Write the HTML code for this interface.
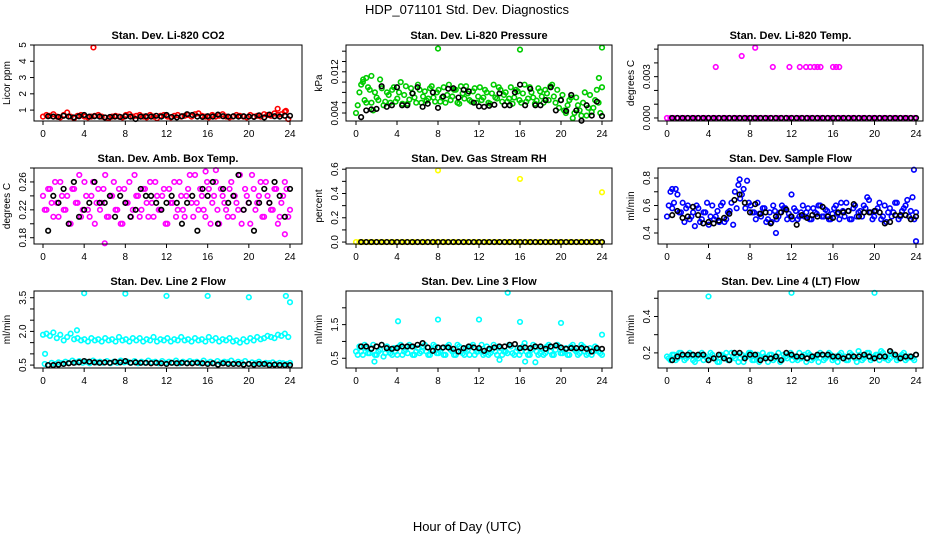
<!DOCTYPE html>
<html><head><meta charset="utf-8"><style>
body{margin:0;background:#fff;}
svg{display:block;font-family:"Liberation Sans",sans-serif;}
</style></head><body>
<svg id="chart" width="936" height="540" viewBox="0 0 936 540">
<text x="467" y="14" text-anchor="middle" font-size="13">HDP_071101  Std. Dev. Diagnostics</text>
<text x="467" y="531" text-anchor="middle" font-size="13">Hour of Day (UTC)</text>
</svg>
<script>
const xTicks = [0,4,8,12,16,20,24];

const co2Color = [0.6,0.7,0.65,0.75,0.6,0.55,0.7,0.85,0.6,0.5,0.65,0.7,0.6,0.55,0.6,0.65,0.7,0.6,0.55,0.5,0.6,0.65,0.6,0.55,0.7,0.75,0.6,0.65,0.7,0.6,0.55,0.7,0.6,0.5,0.65,0.7,0.6,0.55,0.65,0.7,0.6,0.65,0.7,0.6,0.75,0.8,0.65,0.6,0.55,0.7,0.6,0.65,0.75,0.6,0.55,0.6,0.7,0.65,0.6,0.55,0.7,0.6,0.65,0.6,0.75,0.7,0.65,0.8,0.7,0.75,0.9,0.45];
const co2Black = [0.62,0.6,0.58,0.65,0.6,0.55,0.62,0.7,0.6,0.62,0.6,0.55,0.58,0.6,0.58,0.62,0.6,0.45,0.6,0.62,0.6,0.65,0.6,0.7,0.58,0.55,0.62,0.75,0.7,0.6,0.58,0.62,0.6,0.72,0.62,0.6,0.62,0.6,0.62,0.6,0.58,0.68,0.55,0.72,0.62,0.6,0.65,0.65];
const co2Out = [[4.9,4.85],[22.8,1.08],[23.6,0.95]];

const presColor = [0.0040,0.0080,0.0100,0.0060,0.0085,0.0045,0.0070,0.0105,0.0055,0.0080,0.0060,0.0090,0.0068,0.0100,0.0075,0.0058,0.0088,0.0070,0.0095,0.0060,0.0082,0.0068,0.0092,0.0062,0.0085,0.0070,0.0060,0.0095,0.0072,0.0085,0.0058,0.0078,0.0092,0.0065,0.0082,0.0060,0.0090,0.0070,0.0080,0.0058,0.0095,0.0068,0.0085,0.0075,0.0062,0.0090,0.0070,0.0082,0.0060,0.0095,0.0068,0.0080,0.0058,0.0088,0.0072,0.0085,0.0065,0.0095,0.0060,0.0050,0.0075,0.0040,0.0065,0.0030,0.0070,0.0045,0.0060,0.0035,0.0075,0.0050,0.0085,0.0040];
const presColor2 = [0.0055,0.0095,0.0065,0.0090,0.0060,0.0080,0.0065,0.0088,0.0062,0.0075,0.0085,0.0062,0.0080,0.0058,0.0092,0.0066,0.0078,0.0060,0.0085,0.0072,0.0064,0.0088,0.0070,0.0080,0.0062,0.0090,0.0075,0.0065,0.0085,0.0060,0.0092,0.0068,0.0078,0.0062,0.0088,0.0072,0.0065,0.0085,0.0060,0.0078,0.0070,0.0090,0.0062,0.0080,0.0068,0.0058,0.0085,0.0065,0.0078,0.0062,0.0090,0.0070,0.0064,0.0082,0.0060,0.0078,0.0092,0.0072,0.0085,0.0065,0.0045,0.0055,0.0070,0.0040,0.0055,0.0035,0.0080,0.0050,0.0042,0.0065,0.0060,0.0090];
const presBlack = [0.0032,0.0045,0.0047,0.0048,0.0092,0.0052,0.0055,0.0090,0.0055,0.0055,0.0078,0.0090,0.0052,0.0058,0.0080,0.0050,0.0072,0.0087,0.0088,0.0070,0.0085,0.0082,0.0060,0.0053,0.0052,0.0054,0.0056,0.0078,0.0055,0.0055,0.0080,0.0095,0.0055,0.0087,0.0055,0.0055,0.0065,0.0090,0.0045,0.0065,0.0044,0.0075,0.0045,0.0025,0.0055,0.0035,0.0062,0.0034];
const presOut = [[8,0.0165],[16,0.0163],[24,0.0167],[23.7,0.0108],[1.5,0.0112],[0.7,0.0105],[1.0,0.0108]];

const ltempColor = new Array(72).fill(0);
const ltempBlack = new Array(48).fill(0);
const ltempOut = [[4.7,0.0037],[7.2,0.0045],[8.5,0.0051],[10.2,0.0037],[11.8,0.0037],[12.8,0.0037],[13.4,0.0037],[13.8,0.0037],[14.2,0.0037],[14.5,0.0037],[14.8,0.0037],[16.0,0.0037],[16.3,0.0037],[16.6,0.0037]];

const boxColor = [0.24,0.22,0.25,0.21,0.23,0.26,0.22,0.24,0.20,0.25,0.23,0.21,0.26,0.22,0.24,0.20,0.25,0.23,0.27,0.21,0.24,0.22,0.25,0.20,0.23,0.26,0.22,0.24,0.21,0.25,0.23,0.26,0.21,0.24,0.22,0.25,0.20,0.23,0.26,0.22,0.24,0.21,0.25,0.23,0.27,0.22,0.24,0.21,0.25,0.23,0.26,0.20,0.24,0.22,0.25,0.21,0.23,0.27,0.22,0.24,0.20,0.25,0.23,0.26,0.21,0.24,0.22,0.25,0.20,0.23,0.26,0.21];
const boxColor2 = [0.22,0.25,0.23,0.26,0.21,0.24,0.22,0.20,0.25,0.23,0.27,0.22,0.24,0.21,0.26,0.23,0.22,0.25,0.21,0.24,0.26,0.22,0.20,0.25,0.23,0.21,0.27,0.24,0.22,0.25,0.21,0.23,0.26,0.22,0.24,0.20,0.25,0.23,0.21,0.26,0.22,0.24,0.27,0.21,0.23,0.25,0.22,0.26,0.20,0.24,0.22,0.25,0.23,0.21,0.26,0.24,0.22,0.20,0.25,0.23,0.27,0.22,0.24,0.21,0.26,0.23,0.22,0.25,0.21,0.24,0.25,0.22];
const boxBlack = [0.19,0.24,0.23,0.25,0.20,0.26,0.21,0.22,0.23,0.26,0.23,0.23,0.24,0.21,0.24,0.23,0.21,0.22,0.25,0.24,0.24,0.23,0.22,0.23,0.24,0.23,0.20,0.23,0.24,0.19,0.25,0.24,0.26,0.20,0.25,0.23,0.24,0.27,0.22,0.23,0.19,0.23,0.25,0.23,0.26,0.24,0.21,0.25];
const boxOut = [[6.0,0.172],[16.8,0.277],[15.8,0.275],[23.5,0.185]];

const rhColor = new Array(72).fill(0);
const rhBlack = new Array(48).fill(0);
const rhOut = [[8,0.59],[16,0.52],[24,0.41]];

const flowColor = [0.52,0.70,0.62,0.68,0.55,0.48,0.60,0.52,0.45,0.58,0.50,0.55,0.46,0.60,0.52,0.48,0.62,0.50,0.56,0.46,0.58,0.65,0.72,0.78,0.60,0.55,0.62,0.52,0.58,0.50,0.48,0.56,0.52,0.60,0.58,0.54,0.50,0.56,0.52,0.60,0.55,0.50,0.58,0.54,0.60,0.52,0.56,0.50,0.58,0.54,0.62,0.52,0.56,0.50,0.60,0.55,0.52,0.58,0.64,0.50,0.56,0.62,0.52,0.48,0.58,0.55,0.62,0.52,0.58,0.64,0.56,0.50];
const flowColor2 = [0.60,0.58,0.72,0.55,0.62,0.58,0.50,0.55,0.60,0.48,0.55,0.62,0.52,0.50,0.56,0.60,0.48,0.55,0.62,0.70,0.75,0.68,0.58,0.62,0.55,0.50,0.54,0.58,0.48,0.55,0.60,0.50,0.55,0.58,0.50,0.52,0.58,0.50,0.55,0.52,0.58,0.50,0.55,0.60,0.52,0.57,0.50,0.54,0.60,0.50,0.56,0.62,0.50,0.58,0.52,0.56,0.60,0.66,0.55,0.52,0.58,0.50,0.60,0.55,0.52,0.62,0.50,0.56,0.60,0.52,0.66,0.55];
const flowBlack = [0.53,0.56,0.51,0.52,0.59,0.53,0.47,0.48,0.47,0.49,0.51,0.54,0.64,0.68,0.62,0.55,0.61,0.54,0.55,0.47,0.52,0.55,0.57,0.52,0.46,0.53,0.51,0.53,0.52,0.59,0.52,0.51,0.55,0.55,0.56,0.61,0.52,0.55,0.55,0.56,0.55,0.47,0.48,0.53,0.53,0.53,0.50,0.52];
const flowOut = [[23.8,0.86],[24,0.34],[12,0.68],[10.5,0.40],[7,0.79],[0.5,0.72]];

const l2Upper = [1.85,1.9,1.8,1.95,1.7,1.85,1.6,1.75,1.9,1.65,1.7,1.6,1.65,1.55,1.7,1.6,1.65,1.55,1.7,1.6,1.65,1.55,1.75,1.6,1.65,1.55,1.7,1.6,1.7,1.55,1.65,1.6,1.75,1.55,1.65,1.6,1.7,1.55,1.65,1.6,1.75,1.6,1.65,1.55,1.7,1.6,1.65,1.55,1.75,1.6,1.7,1.55,1.65,1.6,1.7,1.55,1.6,1.5,1.65,1.55,1.7,1.6,1.75,1.65,1.7,1.8,1.75,1.7,1.85,1.8,1.9,1.75];
const l2Lower = [0.55,0.5,0.6,0.55,0.62,0.58,0.65,0.6,0.7,0.62,0.68,0.6,0.65,0.58,0.7,0.62,0.65,0.6,0.68,0.58,0.65,0.6,0.7,0.62,0.65,0.6,0.68,0.58,0.65,0.6,0.7,0.62,0.65,0.58,0.68,0.6,0.65,0.6,0.7,0.58,0.65,0.6,0.68,0.62,0.65,0.58,0.7,0.6,0.65,0.58,0.68,0.6,0.65,0.62,0.7,0.58,0.65,0.6,0.68,0.55,0.62,0.58,0.65,0.55,0.6,0.58,0.62,0.55,0.6,0.58,0.55,0.6];
const l2Black = [0.5,0.5,0.52,0.55,0.58,0.6,0.62,0.68,0.65,0.62,0.6,0.62,0.6,0.65,0.62,0.68,0.6,0.62,0.6,0.6,0.58,0.6,0.58,0.55,0.6,0.58,0.6,0.58,0.58,0.6,0.58,0.55,0.58,0.52,0.58,0.55,0.55,0.55,0.52,0.55,0.52,0.55,0.55,0.5,0.52,0.5,0.5,0.5];
const l2Out = [[4,3.7],[8,3.68],[12,3.58],[16,3.58],[20,3.52],[23.6,3.58],[24,3.3],[3.3,2.05],[0.2,1.0]];

const l3Color = [0.7,0.85,0.6,0.8,0.65,0.9,0.6,0.75,0.55,0.85,0.65,0.8,0.6,0.9,0.7,0.65,0.85,0.6,0.8,0.7,0.9,0.6,0.75,0.85,0.65,0.8,0.6,0.9,0.7,0.6,0.85,0.65,0.8,0.6,0.9,0.7,0.75,0.6,0.85,0.65,0.9,0.6,0.8,0.7,0.65,0.85,0.6,0.8,0.7,0.95,0.6,0.75,0.85,0.6,0.8,0.65,0.9,0.6,0.75,0.85,0.65,0.8,0.6,0.9,0.7,0.65,0.85,0.6,0.8,0.7,0.75,0.65];
const l3Color2 = [0.6,0.7,0.9,0.65,0.8,0.6,0.7,0.9,0.65,0.75,0.6,0.7,0.85,0.6,0.75,0.9,0.6,0.7,0.65,0.85,0.7,0.6,0.9,0.65,0.7,0.6,0.85,0.75,0.6,0.9,0.7,0.6,0.75,0.85,0.6,0.7,0.9,0.65,0.6,0.75,0.7,0.85,0.6,0.7,0.9,0.65,0.7,0.6,0.85,0.7,0.6,0.9,0.7,0.65,0.6,0.85,0.7,0.6,0.9,0.65,0.7,0.6,0.85,0.75,0.6,0.9,0.7,0.65,0.6,0.85,0.7,0.6];
const l3Black = [0.85,0.85,0.78,0.85,0.9,0.8,0.78,0.8,0.85,0.85,0.85,0.9,0.95,0.82,0.72,0.82,0.82,0.82,0.78,0.7,0.8,0.85,0.82,0.8,0.72,0.78,0.82,0.85,0.85,0.9,0.92,0.8,0.82,0.8,0.85,0.85,0.78,0.85,0.88,0.82,0.78,0.8,0.8,0.8,0.78,0.7,0.8,0.78];
const l3Out = [[4.1,1.6],[8,1.65],[12,1.65],[14.8,2.45],[16,1.58],[20,1.55],[24,1.2],[1.8,0.4],[16.5,0.4],[17.5,0.38],[14,0.45]];

const l4Color = [0.18,0.16,0.19,0.17,0.2,0.16,0.18,0.19,0.15,0.17,0.2,0.18,0.16,0.19,0.17,0.15,0.18,0.2,0.16,0.18,0.19,0.17,0.15,0.18,0.2,0.16,0.19,0.17,0.18,0.15,0.19,0.17,0.2,0.16,0.18,0.19,0.16,0.17,0.2,0.18,0.15,0.19,0.17,0.18,0.2,0.16,0.18,0.19,0.17,0.15,0.2,0.18,0.16,0.19,0.17,0.21,0.16,0.18,0.2,0.17,0.19,0.16,0.2,0.18,0.17,0.19,0.16,0.18,0.2,0.17,0.18,0.16];
const l4Color2 = [0.17,0.19,0.16,0.2,0.18,0.17,0.2,0.16,0.18,0.19,0.16,0.17,0.2,0.17,0.15,0.19,0.18,0.16,0.2,0.17,0.15,0.19,0.18,0.2,0.16,0.18,0.15,0.2,0.17,0.19,0.16,0.18,0.15,0.19,0.17,0.2,0.18,0.16,0.17,0.19,0.2,0.16,0.18,0.15,0.19,0.17,0.2,0.16,0.18,0.19,0.17,0.16,0.2,0.18,0.15,0.19,0.17,0.2,0.16,0.18,0.19,0.21,0.17,0.16,0.2,0.18,0.17,0.19,0.16,0.18,0.17,0.19];
const l4Black = [0.16,0.18,0.19,0.19,0.19,0.19,0.19,0.16,0.17,0.19,0.17,0.16,0.2,0.2,0.17,0.19,0.19,0.16,0.17,0.17,0.18,0.16,0.2,0.19,0.18,0.18,0.17,0.18,0.19,0.19,0.19,0.18,0.18,0.17,0.18,0.18,0.18,0.19,0.18,0.17,0.18,0.18,0.21,0.19,0.17,0.18,0.18,0.19];
const l4Out = [[4,0.51],[12,0.53],[20,0.53]];

const panels = [
 {name:'li820-co2',title:'Stan. Dev. Li-820 CO2',ylab:'Licor ppm',col:'#ff0000',L:34,R:302,T:45,B:121,x0:43,x1:290,ymin:0.33,ymax:5.0,ticks:[1,2,3,4,5],labels:['1','2','3','4','5'],color:[co2Color],black:co2Black,out:co2Out,xl:true},
 {name:'li820-pressure',title:'Stan. Dev. Li-820 Pressure',ylab:'kPa',col:'#00cc00',L:346,R:612,T:45,B:121,x0:356,x1:602,ymin:0.00245,ymax:0.0172,ticks:[0.004,0.006,0.008,0.010,0.012,0.014,0.016],labels:['0.004','','','','0.012','',''],color:[presColor,presColor2],black:presBlack,out:presOut,xl:true},
 {name:'li820-temp',title:'Stan. Dev. Li-820 Temp.',ylab:'degrees C',col:'#ff00ff',L:658,R:923,T:45,B:121,x0:667,x1:916,ymin:-0.00022,ymax:0.0053,ticks:[0,0.001,0.002,0.003,0.004,0.005],labels:['0.000','','','0.003','',''],color:[ltempColor],black:ltempBlack,out:ltempOut,xl:true},
 {name:'amb-box-temp',title:'Stan. Dev. Amb. Box Temp.',ylab:'degrees C',col:'#ff00ff',L:34,R:302,T:168,B:244,x0:43,x1:290,ymin:0.171,ymax:0.28,ticks:[0.18,0.20,0.22,0.24,0.26,0.28],labels:['0.18','','0.22','','0.26',''],color:[boxColor,boxColor2],black:boxBlack,out:boxOut,xl:true},
 {name:'gas-stream-rh',title:'Stan. Dev. Gas Stream RH',ylab:'percent',col:'#ffff00',L:346,R:612,T:168,B:244,x0:356,x1:602,ymin:-0.016,ymax:0.61,ticks:[0,0.1,0.2,0.3,0.4,0.5,0.6],labels:['0.0','','0.2','','0.4','','0.6'],color:[rhColor],black:rhBlack,out:rhOut,xl:true},
 {name:'sample-flow',title:'Stan. Dev. Sample Flow',ylab:'ml/min',col:'#0000ff',L:658,R:923,T:168,B:244,x0:667,x1:916,ymin:0.32,ymax:0.873,ticks:[0.4,0.5,0.6,0.7,0.8],labels:['0.4','','0.6','','0.8'],color:[flowColor,flowColor2],black:flowBlack,out:flowOut,xl:true},
 {name:'line2-flow',title:'Stan. Dev. Line 2 Flow',ylab:'ml/min',col:'#00ffff',L:34,R:302,T:291,B:368,x0:43,x1:290,ymin:0.37,ymax:3.8,ticks:[0.5,1,1.5,2,2.5,3,3.5],labels:['0.5','','','2.0','','','3.5'],color:[l2Upper,l2Lower],black:l2Black,out:l2Out,xl:true},
 {name:'line3-flow',title:'Stan. Dev. Line 3 Flow',ylab:'ml/min',col:'#00ffff',L:346,R:612,T:291,B:368,x0:356,x1:602,ymin:0.21,ymax:2.5,ticks:[0.5,1,1.5,2],labels:['0.5','','1.5',''],color:[l3Color,l3Color2],black:l3Black,out:l3Out,xl:true},
 {name:'line4-flow',title:'Stan. Dev. Line 4 (LT) Flow',ylab:'ml/min',col:'#00ffff',L:658,R:923,T:291,B:368,x0:667,x1:916,ymin:0.117,ymax:0.54,ticks:[0.2,0.3,0.4,0.5],labels:['0.2','','0.4',''],color:[l4Color,l4Color2],black:l4Black,out:l4Out,xl:true}
];

const NS='http://www.w3.org/2000/svg';
const svg=document.getElementById('chart');
function mk(tag,attrs,parent){const e=document.createElementNS(NS,tag);for(const k in attrs)e.setAttribute(k,attrs[k]);(parent||svg).appendChild(e);return e;}

panels.forEach(p=>{
  const g=mk('g',{});
  
  
  const sx=v=>p.x0+(v/24)*(p.x1-p.x0);
  const sy=v=>p.B-(v-p.ymin)/(p.ymax-p.ymin)*(p.B-p.T);
  const t=mk('text',{x:(p.L+p.R)/2,y:p.T-6,'text-anchor':'middle','font-size':'11','font-weight':'bold'},g);
  t.textContent=p.title;
  
  
  const yl=mk('text',{x:0,y:0,'text-anchor':'middle','font-size':'10',transform:`translate(${p.L-24},${(p.T+p.B)/2}) rotate(-90)`},g);
  yl.textContent=p.ylab;
  
  
  // series colored
  const cg=mk('g',{fill:'none',stroke:p.col,'stroke-width':'1.6'},g);
  
  
  p.color.forEach((arr,k)=>{
    arr.forEach((v,i)=>{
      const x=(i+0.5*k)*24/(arr.length-0.5);
      const c=mk('circle',{cx:sx(Math.min(x,24)),cy:sy(v),r:2.3},cg);
      
      
    });
  });
  p.out.forEach(o=>{
    const c=mk('circle',{cx:sx(o[0]),cy:sy(o[1]),r:2.3},cg);
    
    
  });
  const bg=mk('g',{fill:'none',stroke:'#000','stroke-width':'1.6'},g);
  
  
  p.black.forEach((v,i)=>{
    const c=mk('circle',{cx:sx((i+1)*0.5),cy:sy(v),r:2.3},bg);
    
    
  });
  const box=mk('rect',{x:p.L,y:p.T,width:p.R-p.L,height:p.B-p.T,fill:'none',stroke:'#000','stroke-width':'1'},g);
  
  
  // y ticks
  p.ticks.forEach((v,i)=>{
    const y=sy(v);
    mk('line',{x1:p.L,x2:p.L-4,y1:y,y2:y,stroke:'#000'},g);
    if(p.labels[i]){
      const tl=mk('text',{x:0,y:0,'text-anchor':'middle','font-size':'10',transform:`translate(${p.L-8},${y}) rotate(-90)`},g);
      tl.textContent=p.labels[i];
      
      
    }
  });
  xTicks.forEach(v=>{
    const x=sx(v);
    mk('line',{x1:x,x2:x,y1:p.B,y2:p.B+4,stroke:'#000'},g);
    const tl=mk('text',{x:x,y:p.B+16,'text-anchor':'middle','font-size':'10'},g);
    tl.textContent=v;
    
    
  });
});
</script>
</body></html>
